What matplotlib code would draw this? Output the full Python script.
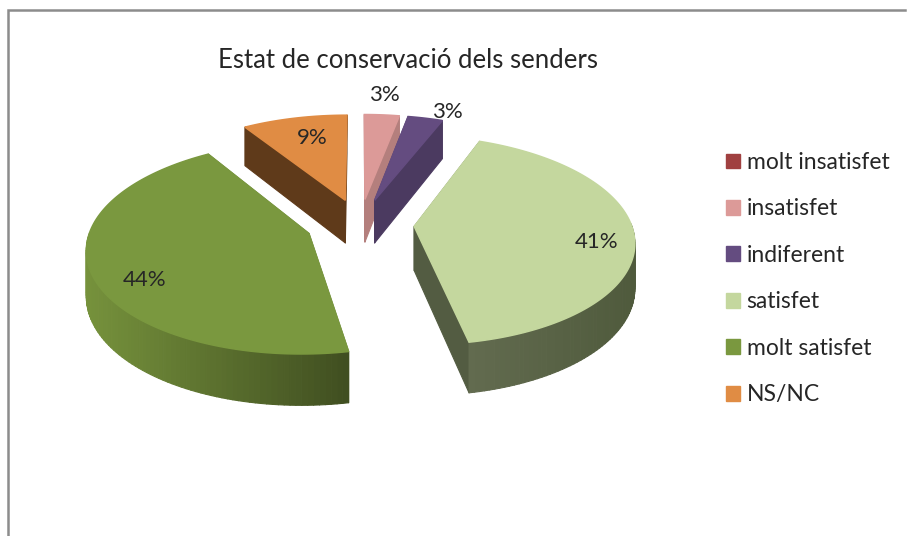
# -*- coding: utf-8 -*-
import numpy as np
import matplotlib
matplotlib.use("Agg")
import matplotlib.pyplot as plt
from matplotlib.collections import PolyCollection
from matplotlib.patches import Patch
from matplotlib.colors import to_rgb

plt.rcParams['font.family'] = ['Lato', 'DejaVu Sans']

title = "Estat de conservació dels senders"
categories = ["molt insatisfet", "insatisfet", "indiferent", "satisfet", "molt satisfet", "NS/NC"]
values = [0, 3, 3, 41, 44, 9]
pct_labels = ["", "3%", "3%", "41%", "44%", "9%"]
pct_pos = [None, (384, 95), (447, 112), (597, 242), (145, 280), (312, 138)]
top_colors = ["#a04040", "#dc9a98", "#644c80", "#c4d79e", "#7a983f", "#e08c44"]
wall_left = ["#7a2f2f", "#b47f7d", "#4b3a60", "#626b4f", "#76923c", "#5f3a1a"]
wall_right = ["#7a2f2f", "#b47f7d", "#4b3a60", "#4f5a3c", "#3f4d20", "#5f3a1a"]
side_colors = ["#7a2f2f", "#b47f7d", "#4b3a60", "#535c42", "#5a7030", "#5f3a1a"]
draw_order = [5, 1, 2, 4, 3]

CX, CY = 360, 224
RX, RY = 217, 102
TILT = 0.131
DEPTH = 44


def project(x, y, depth=0.0):
    # perspective for the tilted pie, y in pie units, pointing back
    w = 1 + TILT * y
    return CX + RX * x / w, CY - RY * y / w + depth / w


def mix(c1, c2, t):
    a, b = np.array(to_rgb(c1)), np.array(to_rgb(c2))
    return tuple(a + (b - a) * t)


fig = plt.figure(figsize=(9.08, 5.36), dpi=100)
ax = fig.add_axes([0, 0, 1, 1])

# pie gives the angles and the exploded centres, the wedges are redrawn tilted
explode = [0.25] * len(values)
wedges, _ = ax.pie(values, explode=explode, startangle=90, counterclock=False, radius=1)
geom = [(w.theta1, w.theta2, w.center, w.r) for w in wedges]
for w in wedges:
    w.remove()
ax.set_aspect('auto')
ax.set_xlim(0, 908)
ax.set_ylim(536, 0)
ax.axis('off')
ax.set_position([0, 0, 1, 1])

for i in draw_order:
    th1, th2, (ox, oy), r = geom[i]
    t = np.radians(np.linspace(th1, th2, 120))
    arc_x = ox + r * np.cos(t)
    arc_y = oy + r * np.sin(t)
    xs = np.concatenate([[ox], arc_x, [ox]])
    ys = np.concatenate([[oy], arc_y, [oy]])
    px, py = project(xs, ys)
    qx, qy = project(xs, ys, DEPTH)

    ax_lo, ax_hi = px[1:-1].min(), px[1:-1].max()
    quads, colors, order = [], [], []
    for k in range(len(px) - 1):
        is_side = k == 0 or k == len(px) - 2
        # back part of the rim is hidden, leave it out so it can't peek past the top
        if not is_side and np.sin(t[k - 1]) > 0.02:
            continue
        quads.append([(px[k], py[k]), (px[k + 1], py[k + 1]),
                      (qx[k + 1], qy[k + 1]), (qx[k], qy[k])])
        if is_side:
            colors.append(side_colors[i])
        else:
            frac = (px[k] - ax_lo) / (ax_hi - ax_lo)
            colors.append(mix(wall_left[i], wall_right[i], frac))
        order.append(py[k] + py[k + 1])
    idx = np.argsort(order)
    walls = PolyCollection([quads[j] for j in idx], facecolors=[colors[j] for j in idx],
                           edgecolors=[colors[j] for j in idx], linewidths=0.8)
    ax.add_collection(walls)
    ax.fill(px, py, color=top_colors[i], lw=1.1)

for lab, pos in zip(pct_labels, pct_pos):
    if pos is not None:
        ax.text(pos[0], pos[1], lab, ha='center', va='center', fontsize=16, color="#262626")

ax.text(408, 60, title, ha='center', va='center', fontsize=18.5, color="#262626")

handles = [Patch(color=c, label=n) for c, n in zip(top_colors, categories)]
ax.legend(handles=handles, loc='upper left', bbox_to_anchor=(726 / 908, 1 - 152 / 536),
          frameon=False, fontsize=16.5, labelspacing=1.11, handlelength=0.62, handleheight=0.62,
          handletextpad=0.28, borderpad=0, borderaxespad=0, labelcolor="#262626")

# chart frame, cut off at the bottom and right of the screenshot
ax.plot([7.5, 7.5, 905], [536, 10, 10], color="#8c8c8c", lw=1.8, solid_joinstyle='miter')

plt.savefig("out.png", dpi=100)
plt.close()
